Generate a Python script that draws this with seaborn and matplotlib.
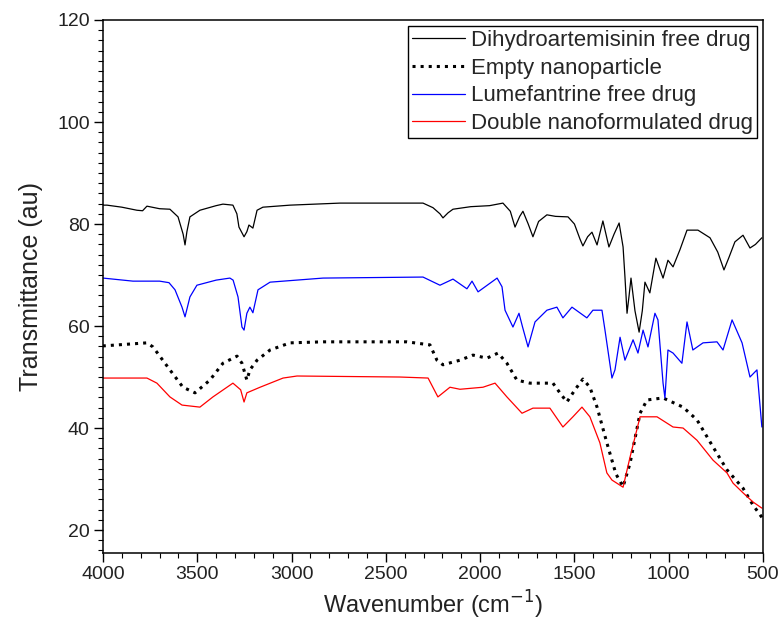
import numpy as np
import pandas as pd
import seaborn as sns
import matplotlib.pyplot as plt
from matplotlib.ticker import MultipleLocator

# FTIR spectra (wavenumber cm-1, transmittance au)
dha_wave = [4000, 3979, 3900, 3820, 3790, 3767, 3700, 3645, 3602, 3575, 3565, 3555, 3539, 3486,
            3400, 3364, 3311, 3290, 3279, 3252, 3237, 3226, 3205, 3183, 3152, 3008, 2743, 2500,
            2303, 2250, 2213, 2197, 2170, 2144, 2050, 1950, 1879, 1840, 1815, 1790, 1773, 1745,
            1720, 1690, 1646, 1600, 1534, 1500, 1470, 1455, 1430, 1407, 1380, 1349, 1317, 1290,
            1263, 1242, 1232, 1221, 1210, 1200, 1179, 1157, 1140, 1126, 1100, 1068, 1030, 1004,
            977, 940, 903, 845, 781, 740, 707, 680, 649, 606, 569, 540, 506]
dha_trans = [83.7, 83.7, 83.3, 82.7, 82.6, 83.5, 83.0, 82.9, 81.4, 78.0, 75.9, 78.5, 81.4, 82.7,
             83.6, 83.9, 83.7, 82.0, 79.4, 77.5, 78.5, 79.8, 79.2, 82.7, 83.3, 83.7, 84.1, 84.1,
             84.1, 83.2, 82.0, 81.2, 82.2, 82.9, 83.4, 83.6, 84.1, 82.5, 79.4, 81.5, 82.5, 80.0,
             77.5, 80.5, 81.8, 81.5, 81.4, 80.0, 77.0, 75.7, 77.5, 78.4, 75.9, 80.6, 75.5, 78.0,
             80.2, 75.5, 69.6, 62.5, 66.0, 69.4, 63.0, 58.8, 63.0, 68.6, 66.5, 73.3, 69.4, 72.9,
             71.6, 75.0, 78.8, 78.8, 77.3, 74.5, 71.0, 73.5, 76.5, 77.8, 75.3, 76.0, 77.3]

empty_wave = [4000, 3767, 3735, 3645, 3576, 3512, 3433, 3364, 3289, 3263, 3237, 3221, 3183, 3114,
              3008, 2833, 2388, 2266, 2229, 2197, 2107, 2038, 1964, 1905, 1858, 1805, 1736, 1614,
              1577, 1540, 1497, 1455, 1418, 1380, 1328, 1280, 1242, 1205, 1152, 1115, 1030, 924,
              850, 765, 691, 606, 553, 506]
empty_trans = [56.1, 56.7, 55.9, 51.4, 48.0, 46.9, 49.4, 52.7, 54.1, 52.7, 49.4, 51.4, 53.3, 55.3,
               56.7, 56.9, 56.9, 56.3, 53.3, 52.4, 53.3, 54.3, 53.7, 54.7, 52.7, 49.4, 48.8, 48.8,
               46.9, 45.1, 47.5, 49.6, 48.0, 44.1, 37.1, 31.0, 28.5, 33.1, 42.9, 45.5, 45.9, 44.1,
               41.6, 36.3, 31.8, 28.2, 24.9, 22.5]

lum_wave = [4000, 3841, 3700, 3650, 3618, 3581, 3565, 3539, 3502, 3400, 3327, 3310, 3284, 3263,
            3252, 3237, 3221, 3205, 3178, 3114, 2833, 2303, 2213, 2144, 2070, 2043, 2011, 1910,
            1884, 1868, 1826, 1794, 1775, 1746, 1709, 1646, 1593, 1561, 1513, 1434, 1402, 1354,
            1338, 1301, 1285, 1258, 1232, 1189, 1163, 1136, 1110, 1073, 1057, 1030, 1020, 1004,
            977, 930, 903, 872, 818, 744, 712, 664, 611, 569, 532, 506]
lum_trans = [69.4, 68.8, 68.8, 68.5, 67.1, 63.7, 61.8, 65.7, 68.0, 69.0, 69.4, 69.0, 65.7, 59.8,
             59.2, 62.5, 63.7, 62.6, 67.1, 68.6, 69.4, 69.6, 68.0, 69.2, 67.3, 68.8, 66.7, 69.4,
             67.7, 63.1, 59.8, 62.5, 59.8, 55.9, 60.8, 63.1, 63.7, 61.6, 63.7, 61.6, 63.1, 63.1,
             59.2, 49.8, 51.4, 57.8, 53.3, 57.3, 54.7, 59.2, 55.9, 62.5, 61.2, 48.8, 45.9, 55.3,
             54.7, 52.7, 60.8, 55.3, 56.7, 56.9, 55.3, 61.2, 56.7, 50.0, 51.4, 40.2]

double_wave = [4000, 3767, 3714, 3645, 3581, 3486, 3417, 3311, 3270, 3252, 3237, 3167, 3045, 2971,
               2425, 2276, 2224, 2160, 2107, 1985, 1921, 1858, 1778, 1720, 1630, 1561, 1508, 1460,
               1418, 1365, 1328, 1301, 1242, 1205, 1152, 1062, 977, 924, 850, 765, 691, 659,
               606, 553, 506]
double_trans = [49.8, 49.8, 48.8, 46.1, 44.5, 44.1, 46.1, 48.8, 47.5, 45.1, 46.9, 48.0, 49.8, 50.2,
                50.0, 49.8, 46.1, 48.0, 47.6, 48.0, 48.8, 46.1, 42.9, 43.9, 43.9, 40.2, 42.2, 44.1,
                42.2, 37.1, 31.2, 29.8, 28.4, 34.3, 42.2, 42.2, 40.2, 40.0, 37.6, 33.7, 31.2, 29.2,
                27.3, 25.5, 24.3]

labels = ["Dihydroartemisinin free drug", "Empty nanoparticle",
          "Lumefantrine free drug", "Double nanoformulated drug"]

sns.set_style("ticks")
plt.rcParams['font.family'] = ['Liberation Sans', 'DejaVu Sans']

fig = plt.figure(figsize=(7.82, 6.41), dpi=100)
ax = fig.add_axes([0.1317, 0.1373, 0.8440, 0.8315])

sns.lineplot(x=dha_wave, y=dha_trans, color='black', linewidth=0.9, label=labels[0], ax=ax)
sns.lineplot(x=empty_wave, y=empty_trans, color='black', linewidth=2.2, linestyle=':',
             label=labels[1], ax=ax)
sns.lineplot(x=lum_wave, y=lum_trans, color='#0000ff', linewidth=0.9, label=labels[2], ax=ax)
sns.lineplot(x=double_wave, y=double_trans, color='#ff0000', linewidth=0.9, label=labels[3], ax=ax)

ax.set_xlim(4000, 500)
ax.set_ylim(15.5, 120)
ax.xaxis.set_major_locator(MultipleLocator(500))
ax.xaxis.set_minor_locator(MultipleLocator(100))
ax.yaxis.set_major_locator(MultipleLocator(20))
ax.yaxis.set_minor_locator(MultipleLocator(2))
ax.tick_params(which='major', direction='out', length=6.5, width=1, labelsize=14, colors='black',
               labelcolor='#222222', pad=3)
ax.tick_params(which='minor', direction='out', length=3.5, width=0.8, colors='black')
ax.tick_params(top=False, right=False)
for s in ax.spines.values():
    s.set_color('black')
    s.set_linewidth(1.1)

ax.set_xlabel("Wavenumber (cm$^{-1}$)", fontsize=17, color='#222222', labelpad=4)
ax.set_ylabel("Transmittance (au)", fontsize=18, color='#222222', labelpad=10)

leg = ax.legend(loc='upper right', fontsize=16, handlelength=2.4, handletextpad=0.25,
                labelspacing=0.3, borderpad=0.2, borderaxespad=0.25, fancybox=False,
                framealpha=1, edgecolor='black')
leg.get_frame().set_linewidth(1.0)

plt.savefig('out.png', dpi=100)
